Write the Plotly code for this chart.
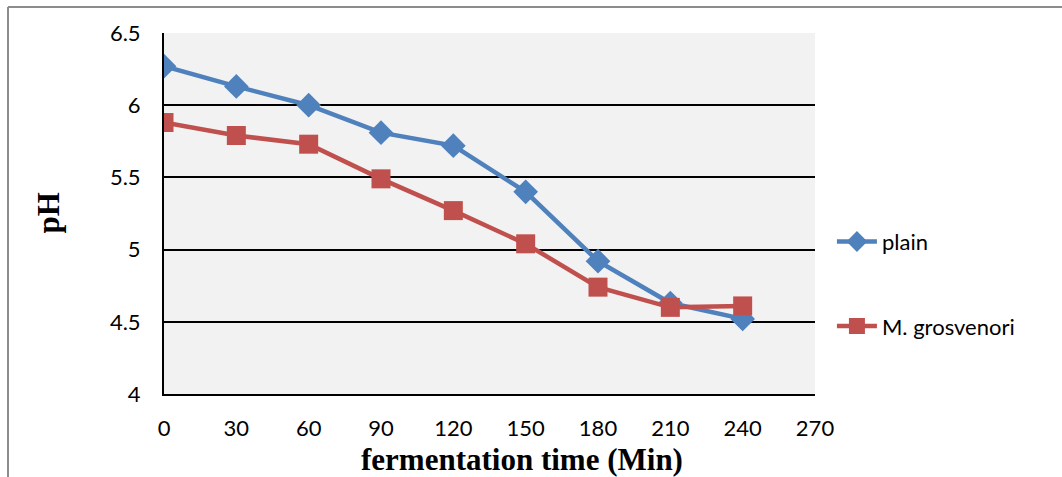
import plotly.graph_objects as go

time_min = [0, 30, 60, 90, 120, 150, 180, 210, 240]
ph_plain = [6.27, 6.13, 6.00, 5.81, 5.72, 5.40, 4.92, 4.63, 4.52]
ph_mg = [5.88, 5.79, 5.73, 5.49, 5.27, 5.04, 4.74, 4.60, 4.61]
x_ticks = [0, 30, 60, 90, 120, 150, 180, 210, 240, 270]
y_ticks = [4, 4.5, 5, 5.5, 6, 6.5]

BLUE = "#4F81BD"
RED = "#C0504D"
TICKFONT = dict(family="Lato, 'Open Sans', sans-serif", size=22, color="#000")
TITLEFONT = dict(family="Liberation Serif, Times New Roman, serif", size=31, color="#000")

fig = go.Figure()
fig.add_trace(go.Scatter(
    x=time_min, y=ph_plain, name="plain", mode="lines+markers",
    line=dict(color=BLUE, width=4.5),
    marker=dict(symbol="diamond", size=19, color=BLUE),
    legendgroup="a",
))
fig.add_trace(go.Scatter(
    x=time_min, y=ph_mg, name="M. grosvenori", mode="lines+markers",
    line=dict(color=RED, width=4.5),
    marker=dict(symbol="square", size=19, color=RED),
    legendgroup="b",
))

fig.update_layout(
    width=1062, height=477,
    margin=dict(l=164, r=247, t=33, b=83),
    paper_bgcolor="white",
    plot_bgcolor="#F2F2F2",
    showlegend=True,
    legend=dict(
        x=1.026, y=0.48, xanchor="left", yanchor="top",
        font=TICKFONT, tracegroupgap=53, bgcolor="rgba(0,0,0,0)",
        itemwidth=40,
    ),
    xaxis=dict(
        range=[0, 270], tickvals=x_ticks, ticktext=[str(v) for v in x_ticks],
        showgrid=False, zeroline=False, showline=True, linecolor="#000", linewidth=2,
        ticks="", ticklabelstandoff=14, tickfont=TICKFONT,
    ),
    yaxis=dict(
        range=[4, 6.5], tickvals=y_ticks, ticktext=["4", "4.5", "5", "5.5", "6", "6.5"],
        showgrid=True, gridcolor="#000", gridwidth=1.5, zeroline=False,
        showline=True, linecolor="#000", linewidth=2, mirror=False,
        ticks="", ticklabelstandoff=17, tickfont=TICKFONT,
    ),
)

# outer chart-area frame (left and top edges)
fig.add_shape(type="line", xref="paper", yref="paper",
              x0=(8 - 164) / 651, x1=(8 - 164) / 651, y0=(394 - 477) / 361 - 0.05, y1=(394 - 7) / 361,
              line=dict(color="#8C8C8C", width=2))
fig.add_shape(type="line", xref="paper", yref="paper",
              x0=(8 - 164) / 651, x1=(1062 - 164) / 651 + 0.05, y0=(394 - 7) / 361, y1=(394 - 7) / 361,
              line=dict(color="#8C8C8C", width=2))

fig.add_annotation(
    text="<b>fermentation time (Min)</b>", xref="paper", yref="paper",
    x=(522 - 164) / 651, y=(394 - 459) / 361, xanchor="center", yanchor="middle",
    showarrow=False, font=TITLEFONT,
)
fig.add_annotation(
    text="<b>pH</b>", xref="paper", yref="paper",
    x=(48 - 164) / 651, y=0.5, xanchor="center", yanchor="middle", textangle=-90,
    showarrow=False, font=TITLEFONT,
)

fig.write_html("out.html")
